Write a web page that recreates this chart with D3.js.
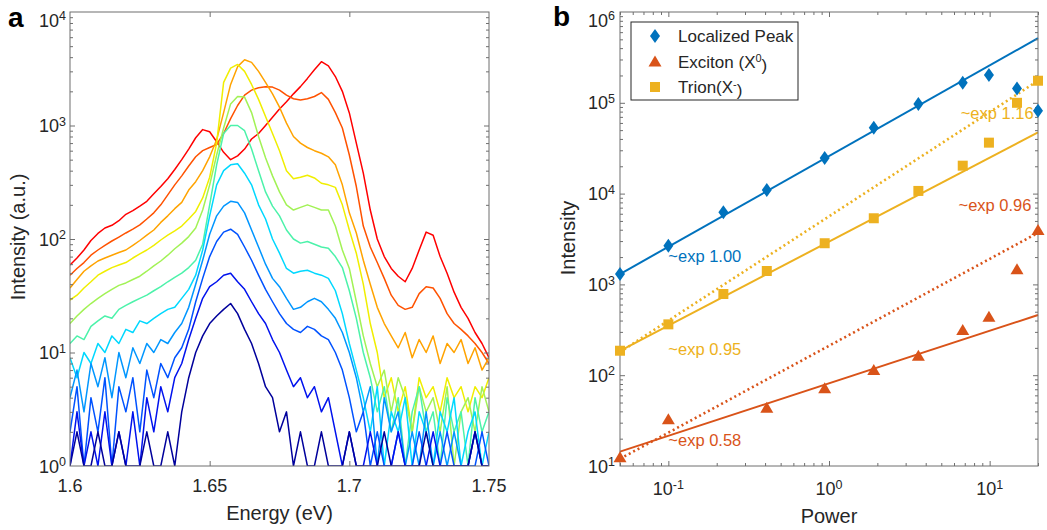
<!DOCTYPE html>
<html>
<head>
<meta charset="utf-8">
<script src="https://cdn.jsdelivr.net/npm/d3@7"></script>
<style>
  body { margin: 0; background: #fff; }
  svg text { font-family: "Liberation Sans", Arial, sans-serif; fill: #262626; }
</style>
</head>
<body>
<svg id="fig" width="1047" height="530"></svg>
<script>
// ---- panel a : PL spectra at increasing power (navy = lowest, red = highest)
const energy = [1.6000,1.6025,1.6050,1.6075,1.6100,1.6125,1.6150,1.6175,1.6200,1.6225,
  1.6250,1.6275,1.6300,1.6325,1.6350,1.6375,1.6400,1.6425,1.6450,1.6475,
  1.6500,1.6525,1.6550,1.6575,1.6600,1.6625,1.6650,1.6675,1.6700,1.6725,
  1.6750,1.6775,1.6800,1.6825,1.6850,1.6875,1.6900,1.6925,1.6950,1.6975,
  1.7000,1.7025,1.7050,1.7075,1.7100,1.7125,1.7150,1.7175,1.7200,1.7225,
  1.7250,1.7275,1.7300,1.7325,1.7350,1.7375,1.7400,1.7425,1.7450,1.7475,1.7500];

const specNavy = [1,2,1,1,2,1,1,2,1,1,1,2,1,1,2,1,
  3,6,10,14,18,21,24,27,22,16,12,8,5,4,2,3,1,2,
  1,1,2,1,1,1,2,1,1,1,1,2,1,1,1,1,1,2,1,1,1,1,1,1,2,1,1];
const specDarkBlue = [1,3,1,2,1,3,1,2,1,3,1,4,2,5,3,6,
  8,13,20,30,38,42,48,50,42,36,28,22,18,13,10,7,5,6,4,5,3,4,2,1,
  2,1,1,2,1,1,1,2,1,1,1,1,2,1,1,1,1,1,2,1,1];
const specBlue = [2,5,1,4,2,6,1,5,3,6,2,7,4,8,6,9,11,
  16,28,45,70,95,115,122,110,85,65,48,36,28,22,18,16,15,17,16,14,13,10,7,4,
  2,3,1,2,1,1,2,1,1,2,1,1,1,2,1,1,1,1,2,1];
const specLightBlue = [4,7,3,8,5,9,4,10,6,11,8,12,10,13,12,15,18,
  25,40,65,110,160,195,215,210,170,120,85,60,45,38,30,24,25,28,30,28,24,20,15,10,6,
  3,5,1,4,2,3,1,2,1,3,1,2,1,2,1,1,2,1,1];
const specCyan = [9,6,10,8,12,10,14,12,16,15,19,18,20,22,24,25,30,36,
  48,80,160,300,400,450,460,380,300,200,150,100,75,55,50,52,53,50,48,45,35,22,12,7,
  4,2,5,1,3,2,4,1,3,2,1,3,2,4,1,2,3,1,2];
const specGreen = [12,14,13,17,19,21,20,24,26,28,30,32,35,38,42,46,50,56,65,
  90,200,450,850,1000,1000,900,620,400,260,195,160,120,100,92,95,90,85,83,70,56,35,20,10,
  6,3,5,2,4,1,3,5,2,3,1,4,2,3,1,4,2,3];
const specLime = [18,21,24,27,30,33,36,39,41,44,47,52,58,64,72,82,92,105,125,
  180,300,550,950,1550,1800,1780,1300,800,520,360,260,200,180,190,200,190,180,180,130,80,55,28,14,
  8,5,7,3,6,4,2,5,3,4,2,5,1,3,4,2,5,3];
const specYellow = [29,32,37,42,48,52,56,59,62,68,74,80,88,98,108,118,130,150,175,
  230,350,700,2400,3200,3450,3000,2300,1700,1200,850,600,400,340,350,365,345,310,300,285,200,120,75,40,18,10,
  4,6,3,5,2,6,4,5,3,6,4,5,3,5,4,6];
const specOrange = [37,44,52,58,64,68,72,76,80,88,97,108,120,
  140,160,185,210,270,320,400,530,750,1300,2300,3300,3800,3600,3000,2400,1900,1450,1050,800,
  700,640,600,570,530,450,300,170,113,65,40,25,18,
  14,11,15,9,13,10,14,8,12,10,13,8,11,7,9];
const specOrangeRed = [48,55,62,72,80,88,96,104,113,122,133,150,170,200,245,300,360,440,530,600,
  640,680,850,1150,1500,1850,2050,2150,2200,2180,2050,1850,1720,1680,1720,1800,1950,1700,1300,950,
  550,290,130,85,62,45,32,26,24,25,33,38,37,30,22,18,16,14,12,10,8];
const specRed = [59,68,80,97,112,125,132,145,165,178,195,215,250,290,340,410,500,620,780,920,880,720,580,
  500,540,620,760,850,1000,1180,1400,1620,1900,2200,2600,3100,3650,3350,2700,2000,
  1290,700,380,180,100,70,55,47,42,55,80,115,108,70,50,34,25,20,15,12,9];

const spectra = [specNavy, specDarkBlue, specBlue, specLightBlue, specCyan, specGreen,
  specLime, specYellow, specOrange, specOrangeRed, specRed];
const spectraColors = ['#00009c', '#0012ee', '#0052ff', '#0096ff', '#00d8ff', '#4cf2aa',
  '#a2f255', '#f0ee00', '#ffa300', '#ff5200', '#ff0000'];

const energyTicks = [1.6, 1.65, 1.7, 1.75];
const intensityTicksA = [1, 10, 100, 1000, 10000];

// ---- panel b : power dependence
const power = [0.05, 0.1, 0.22, 0.41, 0.94, 1.9, 3.6, 6.8, 9.9, 14.8, 20];
const localizedPeak = [1300, 2670, 6220, 10960, 24700, 53200, 97000, 166600, 202000, 144000, 81800];
const trion = [186, 363, 784, 1405, 2840, 5350, 10700, 20300, 36400, 100000, 175000];
const excitonPower = [0.05, 0.1, 0.41, 0.94, 1.9, 3.6, 6.8, 9.9, 14.8, 20];
const exciton = [12.5, 32.7, 43.9, 71.8, 114, 164, 315, 440, 1466, 3970];

// fitted power laws, as end points [power, intensity]
const fitLocalized = [[0.05, 1300], [20, 515000]];
const fitTrionSolid = [[0.05, 185], [20, 47300]];
const fitTrionDotted = [[0.05, 180], [20, 175000]];
const fitExcitonSolid = [[0.05, 14.4], [20, 460]];
const fitExcitonDotted = [[0.05, 12], [20, 3700]];

const powerTicks = [0.1, 1, 10];
const intensityTicksB = [10, 100, 1000, 10000, 100000, 1000000];

const cBlue = '#0072bd', cOrange = '#d95319', cYellow = '#edb120';
const axisColor = '#6f6f6f';

const svg = d3.select('#fig');

function minorLog(lo, hi) {
  const out = [];
  for (let e = Math.floor(Math.log10(lo)); e < Math.ceil(Math.log10(hi)); e++) {
    for (let k = 2; k <= 9; k++) {
      const v = k * Math.pow(10, e);
      if (v >= lo && v <= hi) out.push(v);
    }
  }
  return out;
}

function tickSide(g, axisFn, scale, values, size, tx, ty) {
  g.append('g')
    .attr('transform', `translate(${tx},${ty})`)
    .call(axisFn(scale).tickValues(values).tickSize(-size).tickFormat(''))
    .call(a => a.select('.domain').remove())
    .call(a => a.selectAll('text').remove())
    .selectAll('line').attr('stroke', axisColor).attr('stroke-width', 1);
}

function frame(g, x, y, xMajor, xMinor, yMajor, yMinor) {
  const [x0, x1] = x.range(), [y0, y1] = y.range();
  g.append('rect')
    .attr('x', x0).attr('y', y1).attr('width', x1 - x0).attr('height', y0 - y1)
    .attr('fill', 'none').attr('stroke', axisColor).attr('stroke-width', 1);
  tickSide(g, d3.axisBottom, x, xMajor, 5, 0, y0);
  tickSide(g, d3.axisTop, x, xMajor, 5, 0, y1);
  tickSide(g, d3.axisLeft, y, yMajor, 5, x0, 0);
  tickSide(g, d3.axisRight, y, yMajor, 5, x1, 0);
  if (xMinor) {
    tickSide(g, d3.axisBottom, x, xMinor, 3, 0, y0);
    tickSide(g, d3.axisTop, x, xMinor, 3, 0, y1);
  }
  if (yMinor) {
    tickSide(g, d3.axisLeft, y, yMinor, 3, x0, 0);
    tickSide(g, d3.axisRight, y, yMinor, 3, x1, 0);
  }
}

function powerLabel(g, x, y, anchor, exp) {
  const t = g.append('text').attr('x', x).attr('y', y)
    .attr('text-anchor', anchor).style('font-size', '18px');
  t.append('tspan').text('10');
  t.append('tspan').attr('dy', '-0.5em').style('font-size', '12.5px').text(exp);
  return t;
}

// ================= panel a =================
const gA = svg.append('g');
const xA = d3.scaleLinear().domain([1.6, 1.75]).range([70, 489]);
const yA = d3.scaleLog().domain([1, 1e4]).range([466, 12]);

svg.append('defs').append('clipPath').attr('id', 'clipA')
  .append('rect').attr('x', 70).attr('y', 12).attr('width', 419).attr('height', 454);

const lineA = d3.line().x((d, i) => xA(energy[i])).y(d => yA(Math.max(d, 1)));
gA.append('g').attr('clip-path', 'url(#clipA)')
  .selectAll('path')
  .data(spectra.map((s, i) => ({ s, c: spectraColors[i] })).reverse())
  .join('path')
  .attr('d', d => lineA(d.s))
  .attr('fill', 'none')
  .attr('stroke', d => d.c)
  .attr('stroke-width', 1.5)
  .attr('stroke-linejoin', 'round');

frame(gA, xA, yA, energyTicks.slice(1, 3), null, intensityTicksA.slice(1, 4), minorLog(1, 1e4));

energyTicks.forEach(v => {
  gA.append('text').attr('x', xA(v)).attr('y', 492).attr('text-anchor', 'middle')
    .style('font-size', '18px').text(v);
});
intensityTicksA.forEach(v => {
  powerLabel(gA, 66, Math.max(yA(v), 20) + 6.5, 'end', Math.round(Math.log10(v)));
});

gA.append('text').attr('x', xA(1.675)).attr('y', 520).attr('text-anchor', 'middle')
  .style('font-size', '20px').text('Energy (eV)');
gA.append('text').attr('transform', 'translate(25,237) rotate(-90)').attr('text-anchor', 'middle')
  .style('font-size', '20px').text('Intensity (a.u.)');
gA.append('text').attr('x', 8).attr('y', 27).style('font-size', '28px')
  .style('font-weight', 'bold').style('fill', '#000').text('a');

// ================= panel b =================
const gB = svg.append('g');
const xB = d3.scaleLog().domain([0.05, 20]).range([620, 1038]);
const yB = d3.scaleLog().domain([10, 1e6]).range([466, 12]);

const lineB = d3.line().x(d => xB(d[0])).y(d => yB(d[1]));
const fits = [
  { p: fitLocalized, c: cBlue, dash: null },
  { p: fitTrionDotted, c: cYellow, dash: '2,3' },
  { p: fitTrionSolid, c: cYellow, dash: null },
  { p: fitExcitonDotted, c: cOrange, dash: '2,3' },
  { p: fitExcitonSolid, c: cOrange, dash: null }
];
gB.selectAll('path.fit').data(fits).join('path').attr('class', 'fit')
  .attr('d', d => lineB(d.p))
  .attr('fill', 'none')
  .attr('stroke', d => d.c)
  .attr('stroke-width', d => d.dash ? 2.6 : 2)
  .attr('stroke-dasharray', d => d.dash);

const diamond = 'M0,-7L5,0L0,7L-5,0Z';
const triangle = 'M0,-6L6.5,5L-6.5,5Z';
const square = 'M-5,-5H5V5H-5Z';

frame(gB, xB, yB, powerTicks, minorLog(0.05, 20), intensityTicksB.slice(1, 5), minorLog(10, 1e6));

function markers(xs, ys, shape, color) {
  gB.append('g').selectAll('path').data(ys).join('path')
    .attr('transform', (d, i) => `translate(${xB(xs[i])},${yB(d)})`)
    .attr('d', shape).attr('fill', color);
}
markers(power, localizedPeak, diamond, cBlue);
markers(excitonPower, exciton, triangle, cOrange);
markers(power, trion, square, cYellow);

powerTicks.forEach(v => {
  powerLabel(gB, xB(v), 495, 'middle', Math.round(Math.log10(v)));
});
intensityTicksB.forEach(v => {
  powerLabel(gB, 615, Math.max(yB(v), 20) + 6.5, 'end', Math.round(Math.log10(v)));
});

// fit annotations, anchored in data coordinates
const notes = [
  { t: '~exp 1.00', p: 0.1, v: 1750, c: cBlue },
  { t: '~exp 0.95', p: 0.1, v: 165, c: cYellow },
  { t: '~exp 0.58', p: 0.1, v: 16.5, c: cOrange },
  { t: '~exp 1.16', p: 6.6, v: 66000, c: cYellow },
  { t: '~exp 0.96', p: 6.4, v: 6500, c: cOrange }
];
notes.forEach(n => {
  gB.append('text').attr('x', xB(n.p)).attr('y', yB(n.v))
    .style('font-size', '16.5px').style('fill', n.c).text(n.t);
});

// legend
const lg = gB.append('g');
lg.append('rect').attr('x', 631).attr('y', 22).attr('width', 167).attr('height', 78)
  .attr('fill', '#fff').attr('stroke', '#262626').attr('stroke-width', 1);
const legendRows = [
  { shape: diamond, c: cBlue, main: 'Localized Peak', sup: null, tail: null },
  { shape: triangle, c: cOrange, main: 'Exciton (X', sup: '0', tail: ')' },
  { shape: square, c: cYellow, main: 'Trion(X', sup: '-', tail: ')' }
];
legendRows.forEach((r, i) => {
  const cy = 36 + i * 25.5;
  lg.append('path').attr('transform', `translate(655,${cy})`).attr('d', r.shape).attr('fill', r.c);
  const t = lg.append('text').attr('x', 678).attr('y', cy + 6).style('font-size', '17px');
  t.append('tspan').text(r.main);
  if (r.sup) {
    t.append('tspan').attr('dy', '-0.5em').style('font-size', '11px').text(r.sup);
    t.append('tspan').attr('dy', '0.5em').text(r.tail);
  }
});

gB.append('text').attr('x', xB(1)).attr('y', 523).attr('text-anchor', 'middle')
  .style('font-size', '20px').text('Power');
gB.append('text').attr('transform', 'translate(575,238) rotate(-90)').attr('text-anchor', 'middle')
  .style('font-size', '20px').text('Intensity');
gB.append('text').attr('x', 553).attr('y', 26).style('font-size', '28px')
  .style('font-weight', 'bold').style('fill', '#000').text('b');
</script>
</body>
</html>
